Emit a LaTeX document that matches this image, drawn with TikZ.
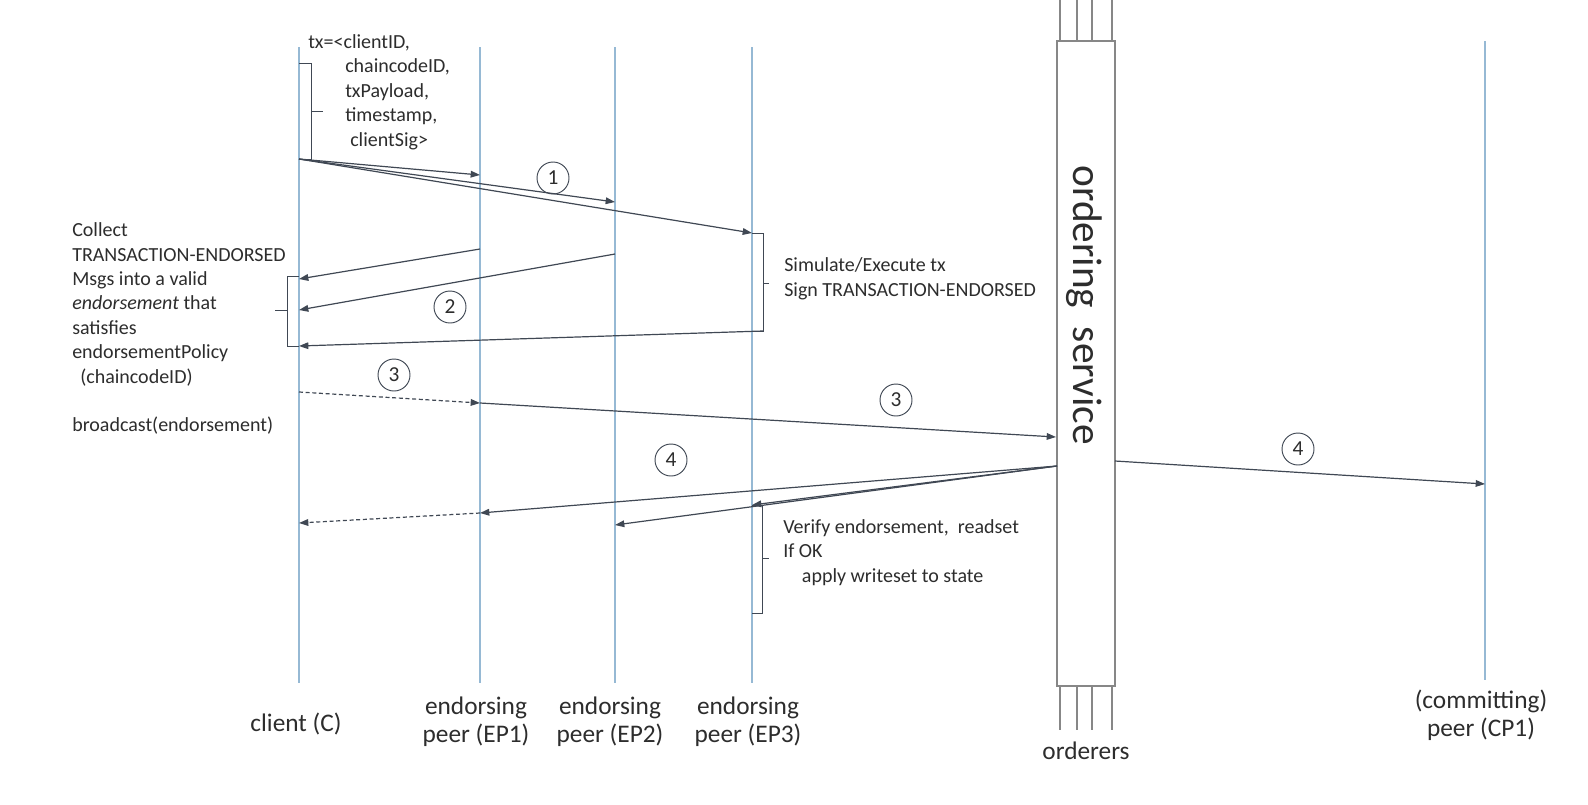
\documentclass[tikz,border=0pt]{standalone}
\usepackage{fontspec}
\setmainfont{Carlito}
\usetikzlibrary{arrows.meta}
\definecolor{lifeblue}{RGB}{150,185,212}
\definecolor{arrowgray}{RGB}{64,72,84}
\definecolor{boxgray}{RGB}{135,135,135}
\definecolor{txtgray}{RGB}{45,45,45}
\begin{document}
\begin{tikzpicture}[x=0.75pt,y=-0.75pt,
  life/.style={lifeblue, line width=0.9pt},
  msg/.style={arrowgray, line width=0.9pt, -{Triangle[length=7pt,width=5pt]}},
  dmsg/.style={msg, dash pattern=on 3pt off 2pt},
  brk/.style={arrowgray, line width=0.7pt},
  ord/.style={boxgray, line width=1pt},
  small/.style={font=\fontsize{15pt}{18.3pt}\selectfont, text=txtgray, inner sep=0pt, align=left},
  lbl/.style={font=\fontsize{19pt}{21pt}\selectfont, text=txtgray, inner sep=0pt, align=center},
  num/.style={draw=arrowgray, circle, line width=0.7pt, minimum size=24pt, inner sep=0pt, font=\fontsize{16pt}{18pt}\selectfont, text=txtgray},
]
\useasboundingbox (0,0) rectangle (1588,804);
\fill[white] (0,0) rectangle (1588,804);

% lifelines
\coordinate (Ct) at (299,47);  \coordinate (Cb) at (299,683);
\coordinate (E1t) at (480,47); \coordinate (E1b) at (480,683);
\coordinate (E2t) at (615,47); \coordinate (E2b) at (615,683);
\coordinate (E3t) at (752,47); \coordinate (E3b) at (752,683);
\coordinate (CPt) at (1485,41); \coordinate (CPb) at (1485,680);
\draw[life] (Ct) -- (Cb);
\draw[life] (E1t) -- (E1b);
\draw[life] (E2t) -- (E2b);
\draw[life] (E3t) -- (E3b);
\draw[life] (CPt) -- (CPb);

% ordering service
\node[draw=boxgray, line width=1pt, minimum width=43.5pt, minimum height=483.75pt, inner sep=0pt] (os) at (1086,363.5) {};
\foreach \xx in {1060,1077,1092,1112} {
  \draw[ord] (\xx,0) -- (\xx,41);
  \draw[ord] (\xx,686) -- (\xx,730);
}
\node[rotate=-90, font=\fontsize{31pt}{33pt}\selectfont, text=txtgray, inner sep=0pt] (ostext) at (1084,305) {ordering\hspace{0.45em}service};

% step 1
\coordinate (s1) at (299,159);
\coordinate (e1a) at (480,175);
\coordinate (e1b) at (615,202);
\coordinate (e1c) at (752,233);
\draw[msg] (s1) -- (e1a);
\draw[msg] (s1) -- (e1b);
\draw[msg] (s1) -- (e1c);
\draw[brk] (299,63) -- (311,63) -- (311,159) -- (299,159);
\draw[brk] (311,111) -- (323,111);
\node[small, anchor=base west] (txt) at (308,146) {tx=<clientID,\\\hspace*{27.75pt}chaincodeID,\\\hspace*{27.75pt}txPayload,\\\hspace*{27.75pt}timestamp,\\\hspace*{31.5pt}clientSig>};
\node[num] (n1) at (553,178) {1};

% step 2
\draw[brk] (752,233) -- (763,233) -- (763,331) -- (752,331);
\draw[brk] (763,283) -- (769,283);
\node[small, anchor=base west] (sim) at (784,296) {Simulate/Execute tx\\Sign TRANSACTION-ENDORSED};
\coordinate (r1) at (480,249);
\coordinate (r2) at (615,254);
\coordinate (r3) at (763,331);
\coordinate (c2a) at (299,279);
\coordinate (c2b) at (299,310);
\coordinate (c2c) at (299,346);
\draw[msg] (r1) -- (c2a);
\draw[msg] (r2) -- (c2b);
\draw[msg] (r3) -- (c2c);
\draw[brk] (299,276) -- (287,276) -- (287,346) -- (299,346);
\draw[brk] (287,310) -- (275,310);
\node[num] (n2) at (450,307) {2};
\node[small, anchor=base west] (collect) at (72,383) {Collect\\TRANSACTION-ENDORSED\\Msgs into a valid\\\textit{endorsement} that\\satisfies\\endorsementPolicy\\\hspace*{6pt}(chaincodeID)};
\node[small, anchor=base west] (bcast) at (72,431) {broadcast(endorsement)};

% step 3
\coordinate (d3s) at (299,392);
\coordinate (d3e) at (480,403);
\coordinate (o3) at (1056,437);
\draw[dmsg] (d3s) -- (d3e);
\draw[msg] (d3e) -- (o3);
\node[num] (n3a) at (394,375) {3};
\node[num] (n3b) at (896,400) {3};

% step 4
\coordinate (o4) at (1057,466);
\coordinate (p4a) at (480,513);
\coordinate (p4b) at (615,525);
\coordinate (p4c) at (752,505);
\coordinate (c4) at (299,523);
\draw[msg] (o4) -- (p4a);
\draw[msg] (o4) -- (p4b);
\draw[msg] (o4) -- (p4c);
\draw[dmsg] (p4a) -- (c4);
\coordinate (o4r) at (1115,461);
\coordinate (cp4) at (1485,484);
\draw[msg] (o4r) -- (cp4);
\draw[brk] (752,505) -- (762,505) -- (762,613) -- (752,613);
\draw[brk] (762,558) -- (769,558);
\node[small, anchor=base west] (verify) at (783,582) {Verify endorsement,\ \ readset\\If OK\\\hspace*{14pt}apply writeset to state};
\node[num] (n4a) at (671,460) {4};
\node[num] (n4b) at (1298,449) {4};

% labels
\node[lbl, anchor=base] (lc) at (296,731) {client (C)};
\node[lbl, anchor=base] (le1) at (476,742) {endorsing\\peer (EP1)};
\node[lbl, anchor=base] (le2) at (610,742) {endorsing\\peer (EP2)};
\node[lbl, anchor=base] (le3) at (748,742) {endorsing\\peer (EP3)};
\node[lbl, anchor=base] (lo) at (1086,759) {orderers};
\node[lbl, anchor=base] (lcp) at (1481,736) {(committing)\\peer (CP1)};
\end{tikzpicture}
\end{document}
